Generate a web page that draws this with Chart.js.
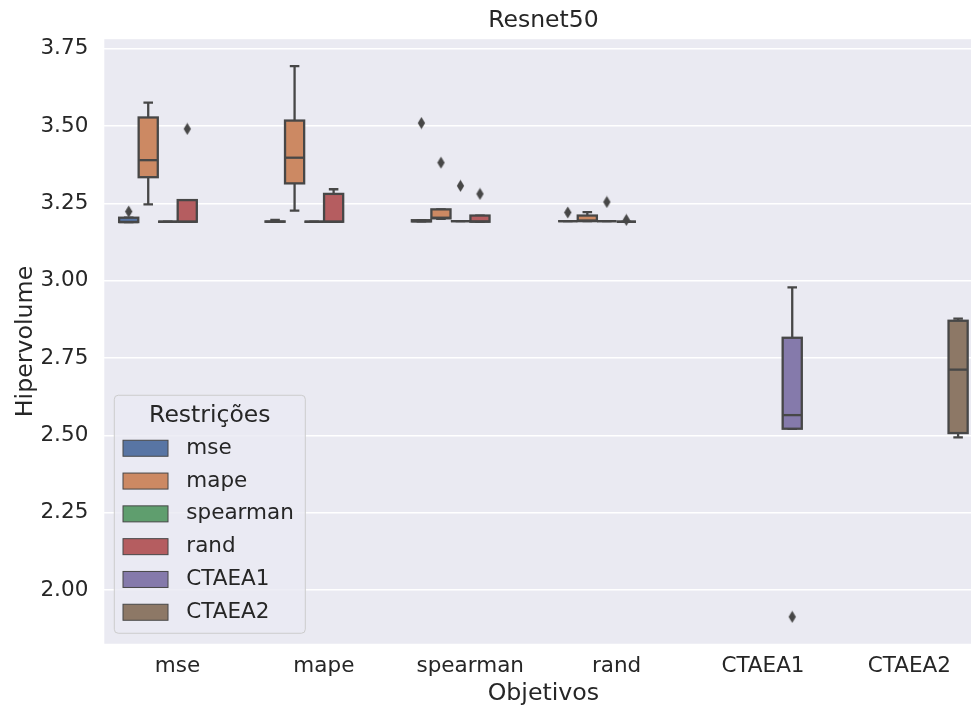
<!DOCTYPE html>
<html lang="pt">
<head>
<meta charset="UTF-8">
<title>Resnet50 - Hipervolume</title>
<script src="https://cdn.jsdelivr.net/npm/chart.js"></script>
<style>
  html, body { margin: 0; padding: 0; background: #fff; overflow: hidden; }
  canvas { display: block; }
</style>
</head>
<body>
<canvas id="chart" width="990" height="709"></canvas>
<script>
const categories = ['mse', 'mape', 'spearman', 'rand', 'CTAEA1', 'CTAEA2'];
const hues = ['mse', 'mape', 'spearman', 'rand', 'CTAEA1', 'CTAEA2'];
const hueColors = ['#5875A4', '#CC8963', '#5F9E6E', '#B55D60', '#857AAB', '#8D7866'];
const yTicks = [2.00, 2.25, 2.50, 2.75, 3.00, 3.25, 3.50, 3.75];

// one entry per box: objective (x category) + restriction (hue)
const boxCat   = [0, 0, 0, 0, 1, 1, 1, 1, 2, 2, 2, 2, 3, 3, 3, 3, 4, 5];
const boxHue   = [0, 1, 2, 3, 0, 1, 2, 3, 0, 1, 2, 3, 0, 1, 2, 3, 4, 5];
const whisLow  = [3.190, 3.247, 3.191, 3.191, 3.191, 3.227, 3.191, 3.191, 3.192, 3.200, 3.193, 3.191, 3.193, 3.193, 3.193, 3.191, 2.522, 2.494];
const q1       = [3.190, 3.335, 3.191, 3.191, 3.191, 3.315, 3.191, 3.191, 3.192, 3.202, 3.193, 3.191, 3.193, 3.193, 3.193, 3.191, 2.522, 2.508];
const median   = [3.190, 3.390, 3.191, 3.191, 3.191, 3.398, 3.191, 3.191, 3.193, 3.204, 3.193, 3.192, 3.193, 3.195, 3.193, 3.191, 2.566, 2.713];
const q3       = [3.204, 3.528, 3.191, 3.261, 3.192, 3.518, 3.191, 3.281, 3.196, 3.231, 3.193, 3.211, 3.193, 3.211, 3.193, 3.191, 2.816, 2.871];
const whisHigh = [3.204, 3.576, 3.191, 3.261, 3.197, 3.694, 3.191, 3.296, 3.196, 3.231, 3.193, 3.211, 3.193, 3.222, 3.193, 3.191, 2.979, 2.878];

// outliers (fliers)
const outCat = [0, 0, 2, 2, 2, 2, 3, 3, 3, 4];
const outHue = [0, 3, 0, 1, 2, 3, 0, 2, 3, 4];
const outVal = [3.224, 3.491, 3.510, 3.382, 3.307, 3.281, 3.221, 3.255, 3.197, 1.914];

const LINE = '#474747';
const TEXT = '#262626';
const slot = 0.8 / hues.length;
const hueOffset = h => -0.4 + (h + 0.5) * slot;

Chart.defaults.font.family = "'DejaVu Sans', sans-serif";
Chart.defaults.color = TEXT;

// thin diamond marker like matplotlib 'd'
const diamond = document.createElement('canvas');
diamond.width = 9; diamond.height = 13;
(function () {
  const c = diamond.getContext('2d');
  c.fillStyle = LINE;
  c.beginPath();
  c.moveTo(4.5, 0.5); c.lineTo(8.2, 6.5); c.lineTo(4.5, 12.5); c.lineTo(0.8, 6.5);
  c.closePath(); c.fill();
})();

const backgroundPlugin = {
  id: 'axesBackground',
  beforeDraw(chart) {
    const { ctx, chartArea: a } = chart;
    ctx.save();
    ctx.fillStyle = '#EAEAF2';
    ctx.fillRect(a.left, a.top, a.right - a.left, a.bottom - a.top);
    ctx.restore();
  }
};

const boxPlugin = {
  id: 'boxes',
  beforeDatasetsDraw(chart) {
    const { ctx, scales: { x, y } } = chart;
    const half = (x.getPixelForValue(slot * 0.98) - x.getPixelForValue(0)) / 2;
    ctx.save();
    ctx.strokeStyle = LINE;
    ctx.lineWidth = 2.3;
    ctx.lineCap = 'butt';
    boxCat.forEach((c, i) => {
      const cx = x.getPixelForValue(c + hueOffset(boxHue[i]));
      const yLo = y.getPixelForValue(whisLow[i]);
      const yQ1 = y.getPixelForValue(q1[i]);
      const yMed = y.getPixelForValue(median[i]);
      const yQ3 = y.getPixelForValue(q3[i]);
      const yHi = y.getPixelForValue(whisHigh[i]);
      // whiskers and caps
      ctx.beginPath();
      ctx.moveTo(cx, yQ3); ctx.lineTo(cx, yHi);
      ctx.moveTo(cx, yQ1); ctx.lineTo(cx, yLo);
      ctx.moveTo(cx - half / 2, yHi); ctx.lineTo(cx + half / 2, yHi);
      ctx.moveTo(cx - half / 2, yLo); ctx.lineTo(cx + half / 2, yLo);
      ctx.stroke();
      // box
      ctx.fillStyle = hueColors[boxHue[i]];
      ctx.fillRect(cx - half, yQ3, half * 2, yQ1 - yQ3);
      ctx.strokeRect(cx - half, yQ3, half * 2, yQ1 - yQ3);
      // median
      ctx.beginPath();
      ctx.moveTo(cx - half, yMed); ctx.lineTo(cx + half, yMed);
      ctx.stroke();
    });
    ctx.restore();
  }
};

const legendPlugin = {
  id: 'hueLegend',
  afterDraw(chart) {
    const { ctx, chartArea: a } = chart;
    const w = 191, h = 238;
    const left = a.left + 10, top = a.bottom - 10.5 - h;
    ctx.save();
    ctx.beginPath();
    ctx.roundRect(left, top, w, h, 4);
    ctx.fillStyle = 'rgba(234,234,242,0.8)';
    ctx.fill();
    ctx.strokeStyle = '#cccccc';
    ctx.lineWidth = 1;
    ctx.stroke();

    ctx.fillStyle = TEXT;
    ctx.textBaseline = 'middle';
    ctx.textAlign = 'center';
    ctx.font = "23.5px 'DejaVu Sans'";
    ctx.fillText('Restrições', left + w / 2, top + 21);

    ctx.textAlign = 'left';
    ctx.font = "21.5px 'DejaVu Sans'";
    hues.forEach((name, i) => {
      const yc = top + 53 + i * 32.8;
      ctx.fillStyle = hueColors[i];
      ctx.fillRect(left + 8.7, yc - 8, 45, 16);
      ctx.strokeStyle = LINE;
      ctx.lineWidth = 1;
      ctx.strokeRect(left + 8.7, yc - 8, 45, 16);
      ctx.fillStyle = TEXT;
      ctx.fillText(name, left + 72, yc);
    });
    ctx.restore();
  }
};

new Chart(document.getElementById('chart'), {
  type: 'scatter',
  data: {
    datasets: [{
      label: 'outliers',
      data: outVal.map((v, i) => ({ x: outCat[i] + hueOffset(outHue[i]), y: v })),
      pointStyle: diamond,
      pointRadius: 5,
      backgroundColor: LINE,
      borderColor: LINE
    }]
  },
  options: {
    responsive: false,
    animation: false,
    layout: { padding: { left: 0, right: 7.5, top: 0, bottom: 0 } },
    plugins: { legend: { display: false }, tooltip: { enabled: false } },
    scales: {
      x: {
        type: 'linear',
        min: -0.5,
        max: 5.5,
        afterBuildTicks: s => { s.ticks = categories.map((_, i) => ({ value: i })); },
        ticks: { callback: v => categories[v], font: { size: 21.5 }, padding: 0, maxRotation: 0, autoSkip: false },
        grid: { color: 'rgba(0,0,0,0)', tickColor: 'rgba(0,0,0,0)', drawTicks: true, tickLength: 10 },
        border: { display: false },
        title: { display: true, text: 'Objetivos', font: { size: 23.7 }, padding: { top: 0, bottom: 1 } }
      },
      x2: {
        type: 'linear',
        position: 'top',
        ticks: { display: false },
        grid: { display: false, drawTicks: false },
        border: { display: false },
        title: { display: true, text: 'Resnet50', font: { size: 23.5 }, padding: { top: 7, bottom: 4 } }
      },
      y: {
        min: 1.827,
        max: 3.781,
        afterBuildTicks: s => { s.ticks = yTicks.map(v => ({ value: v })); },
        ticks: { callback: v => v.toFixed(2), font: { size: 21.5 }, padding: 0 },
        grid: { color: '#ffffff', lineWidth: 1.5, drawTicks: true, tickLength: 16, tickColor: 'rgba(0,0,0,0)' },
        border: { display: false },
        title: { display: true, text: 'Hipervolume', font: { size: 23.7 }, padding: { top: 12, bottom: 0 } }
      }
    }
  },
  plugins: [backgroundPlugin, boxPlugin, legendPlugin]
});
</script>
</body>
</html>
